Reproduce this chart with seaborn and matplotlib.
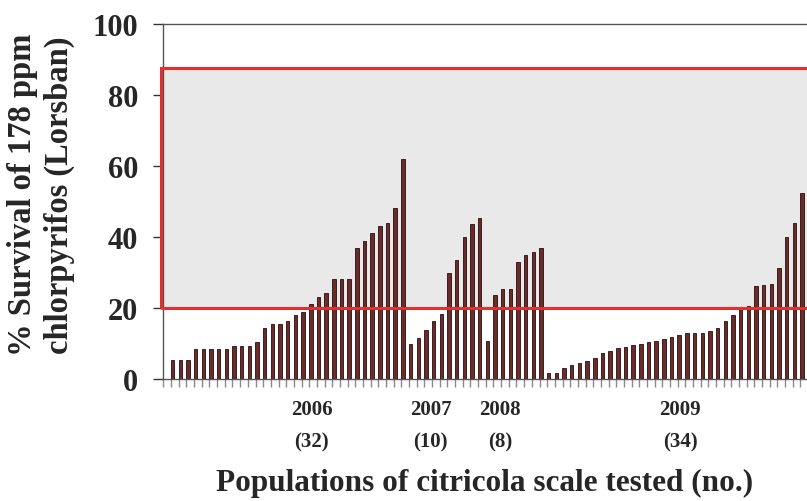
import numpy as np
import pandas as pd
import matplotlib
matplotlib.use("Agg")
import matplotlib.pyplot as plt
import matplotlib.transforms as mtransforms
from matplotlib.patches import Rectangle
import seaborn as sns

# % survival per population
survival_2006 = [0, 5.3, 5.3, 5.3, 8.4, 8.4, 8.4, 8.4, 8.4, 9.4, 9.4, 9.4, 10.3, 14.4,
                 15.5, 15.5, 16.4, 18.1, 19.0, 21.0, 23.2, 24.2, 28.2, 28.2, 28.2,
                 37.0, 39.0, 41.0, 43.0, 44.0, 48.1, 62.0]
survival_2007 = [10.0, 11.5, 13.8, 16.4, 18.2, 30.0, 33.4, 40.1, 43.8, 45.5]
survival_2008 = [10.8, 23.7, 25.3, 25.3, 33.1, 35.0, 35.7, 36.8]
survival_2009 = [1.7, 1.7, 3.1, 4.0, 4.4, 5.1, 5.8, 7.2, 7.8, 8.7, 9.1, 9.5, 10.0, 10.3,
                 10.8, 11.3, 11.7, 12.4, 13.0, 13.0, 13.0, 13.6, 14.4, 16.3, 18.1,
                 20.0, 20.7, 26.3, 26.5, 26.8, 31.3, 40.0, 44.0, 52.3]
years = ["2006", "2007", "2008", "2009"]
group_counts = ["(32)", "(10)", "(8)", "(34)"]
resistant_band = (20, 87.5)

values = survival_2006 + survival_2007 + survival_2008 + survival_2009
df = pd.DataFrame({"population": np.arange(len(values)), "survival": values})

sns.set_style("white")
plt.rcParams["font.family"] = ["Liberation Serif", "DejaVu Serif"]
plt.rcParams["font.weight"] = "bold"

fig = plt.figure(figsize=(8.07, 5.02), dpi=100)
ax = fig.add_axes([0.2025, 0.243, 0.7975, 0.707])

# shaded "resistant" band behind the bars
ax.add_patch(Rectangle((-0.5, resistant_band[0]), 100, resistant_band[1] - resistant_band[0],
                       facecolor="#e9e9e9", edgecolor="none", zorder=0, clip_on=False))

sns.barplot(data=df, x="population", y="survival", color="#6a2b2b", width=0.45,
            edgecolor="#2a0c0c", linewidth=0.6, saturation=1, ax=ax, zorder=2)

ax.add_patch(Rectangle((-0.5, resistant_band[0]), 100, resistant_band[1] - resistant_band[0],
                       facecolor="none", edgecolor="#e2302e", linewidth=2.2, zorder=4,
                       clip_on=False))

ax.set_xlim(-0.2, 83.65)
ax.set_ylim(0, 100)
ax.set_xticks(np.arange(len(values)) - 0.2)
ax.set_xticklabels([])
ax.set_yticks([0, 20, 40, 60, 80, 100])
ax.set_yticklabels(["0", "20", "40", "60", "80", "100"], fontsize=22, fontweight="bold")
ax.tick_params(axis="y", direction="out", length=7, width=1, color="#333333", pad=11,
               left=True)
ax.tick_params(axis="x", direction="out", length=6, width=1, color="#8a8a8a", bottom=True)
ax.set_xlabel("")
ax.set_ylabel("")

for side in ["left", "bottom", "top"]:
    ax.spines[side].set_color("#555555")
    ax.spines[side].set_linewidth(1)
ax.spines["right"].set_visible(False)
ax.set_facecolor("none")

# year / count labels under the axis
trans = mtransforms.blended_transform_factory(ax.transData, ax.transAxes)
label_x = [19.15, 34.6, 43.7, 67.1]
for x, yr, n in zip(label_x, years, group_counts):
    ax.text(x, -0.085, yr, transform=trans, ha="center", va="center", fontsize=15,
            fontweight="bold")
    ax.text(x, -0.175, n, transform=trans, ha="center", va="center", fontsize=15,
            fontweight="bold")

fig.text(0.6, 0.036, "Populations of citricola scale tested (no.)", ha="center",
         va="center", fontsize=22.5, fontweight="bold")
fig.text(0.028, 0.612, "% Survival of 178 ppm", rotation=90, ha="center", va="center",
         fontsize=23.5, fontweight="bold")
fig.text(0.073, 0.612, "chlorpyrifos (Lorsban)", rotation=90, ha="center", va="center",
         fontsize=23.5, fontweight="bold")

fig.savefig("out.png", dpi=100)
